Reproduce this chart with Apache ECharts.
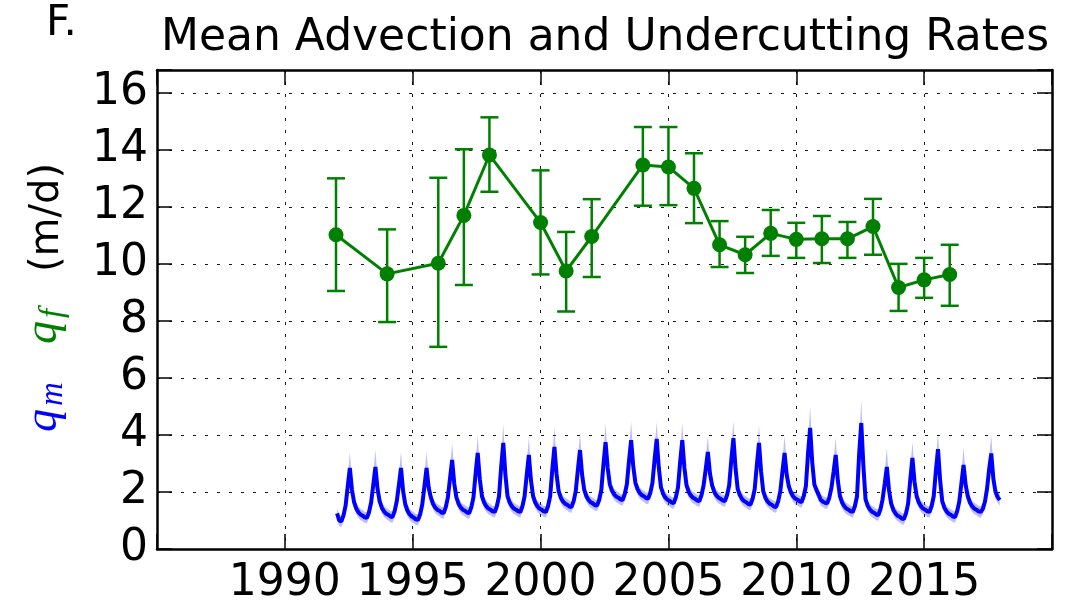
<!DOCTYPE html>
<html><head><meta charset="utf-8">
<script src="https://cdn.jsdelivr.net/npm/echarts@6/dist/echarts.min.js"></script>
<style>html,body{margin:0;padding:0;background:#fff}#c{width:1069px;height:611px}</style>
</head><body><div id="c"></div>
<script>
// ---- tick labels ----
const xTickLabels = [1990, 1995, 2000, 2005, 2010, 2015];
const yTickLabels = [0, 2, 4, 6, 8, 10, 12, 14, 16];

// ---- q_f (green, annual means with error bars) ----
const qfYears = [1992, 1994, 1996, 1997, 1998, 2000, 2001, 2002, 2004, 2005, 2006, 2007, 2008, 2009, 2010, 2011, 2012, 2013, 2014, 2015, 2016];
const qfMean  = [11.02, 9.65, 10.02, 11.70, 13.82, 11.45, 9.75, 10.96, 13.47, 13.40, 12.65, 10.67, 10.32, 11.07, 10.86, 10.88, 10.88, 11.31, 9.17, 9.44, 9.63];
const qfLow   = [9.05, 7.96, 7.09, 9.26, 12.53, 9.63, 8.33, 9.54, 12.04, 12.06, 11.43, 9.89, 9.68, 10.28, 10.21, 10.03, 10.21, 10.32, 8.35, 8.81, 8.53];
const qfHigh  = [13.00, 11.21, 13.02, 14.02, 15.14, 13.28, 11.12, 12.27, 14.80, 14.80, 13.88, 11.50, 10.95, 11.89, 11.44, 11.68, 11.47, 12.28, 10.00, 10.21, 10.67];

// ---- q_m (blue, monthly series 1992-2017, mid-month samples) ----
const qmStartYear = 1992;
const qmMonthly = [
  1.25,1.00,0.97,1.17,1.52,2.19,2.84,2.07,1.64,1.42,1.29,1.21,
  1.17,1.11,1.09,1.29,1.64,2.25,2.88,2.10,1.67,1.45,1.32,1.24,
  1.20,1.14,1.12,1.32,1.67,2.24,2.84,2.03,1.57,1.35,1.22,1.14,
  1.10,1.04,1.02,1.22,1.57,2.20,2.84,2.15,1.81,1.59,1.46,1.38,
  1.34,1.28,1.26,1.46,1.81,2.47,3.12,2.29,1.81,1.59,1.46,1.38,
  1.34,1.28,1.26,1.46,1.81,2.63,3.37,2.44,1.85,1.63,1.50,1.42,
  1.38,1.32,1.30,1.50,1.85,2.87,3.72,2.61,1.85,1.63,1.50,1.42,
  1.38,1.32,1.30,1.50,1.85,2.60,3.30,2.40,1.85,1.63,1.50,1.42,
  1.38,1.32,1.30,1.50,1.85,2.78,3.58,2.63,2.02,1.80,1.67,1.59,
  1.55,1.49,1.47,1.67,2.02,2.77,3.47,2.60,2.07,1.85,1.72,1.64,
  1.60,1.54,1.52,1.72,2.07,2.97,3.75,2.84,2.27,2.05,1.92,1.84,
  1.80,1.74,1.72,1.92,2.27,3.09,3.82,2.90,2.32,2.10,1.97,1.89,
  1.85,1.79,1.77,1.97,2.32,3.13,3.86,2.84,2.16,1.94,1.81,1.73,
  1.69,1.63,1.61,1.81,2.16,3.05,3.82,2.85,2.23,2.01,1.88,1.80,
  1.76,1.70,1.68,1.88,2.23,2.80,3.40,2.64,2.23,2.01,1.88,1.80,
  1.76,1.70,1.68,1.88,2.23,3.12,3.89,2.83,2.11,1.89,1.76,1.68,
  1.64,1.58,1.56,1.76,2.11,2.96,3.72,2.70,2.02,1.80,1.67,1.59,
  1.55,1.49,1.47,1.67,2.02,2.71,3.37,2.61,2.20,1.98,1.85,1.77,
  1.73,1.67,1.65,1.85,2.20,3.34,4.25,3.03,2.25,2.07,1.90,1.72,
  1.66,1.62,1.60,1.80,2.15,2.71,3.30,2.40,1.85,1.63,1.50,1.42,
  1.38,1.32,1.30,1.50,1.85,3.33,4.42,2.91,1.74,1.52,1.39,1.31,
  1.27,1.21,1.19,1.39,1.74,2.29,2.88,2.07,1.60,1.38,1.25,1.17,
  1.13,1.07,1.05,1.25,1.60,2.44,3.19,2.35,1.85,1.63,1.50,1.42,
  1.38,1.32,1.30,1.50,1.85,2.73,3.50,2.41,1.67,1.45,1.32,1.24,
  1.20,1.14,1.12,1.32,1.67,2.31,2.95,2.23,1.85,1.63,1.50,1.42,
  1.38,1.32,1.30,1.40,1.65,2.10,2.80,3.35,2.45,2.00,1.82,1.72
];
// band above / below the q_m line
const qmBandUp = [
  .2,.2,.2,.2,.25,.4,.55,.4,.25,.2,.2,.2,
  .2,.2,.2,.2,.25,.4,.60,.4,.25,.2,.2,.2,
  .2,.2,.2,.2,.25,.4,.55,.4,.25,.2,.2,.2,
  .2,.2,.2,.2,.25,.4,.55,.4,.25,.2,.2,.2,
  .2,.2,.2,.2,.25,.4,.60,.4,.25,.2,.2,.2,
  .2,.2,.2,.2,.25,.4,.60,.4,.25,.2,.2,.2,
  .2,.2,.2,.2,.25,.4,.65,.4,.25,.2,.2,.2,
  .2,.2,.2,.2,.25,.4,.60,.4,.25,.2,.2,.2,
  .2,.2,.2,.2,.25,.4,.70,.4,.25,.2,.2,.2,
  .2,.2,.2,.2,.25,.4,.60,.4,.25,.2,.2,.2,
  .2,.2,.2,.2,.25,.4,.65,.4,.25,.2,.2,.2,
  .2,.2,.2,.2,.25,.4,.65,.4,.25,.2,.2,.2,
  .2,.2,.2,.2,.25,.4,.60,.4,.25,.2,.2,.2,
  .2,.2,.2,.2,.25,.4,.60,.4,.25,.2,.2,.2,
  .2,.2,.2,.2,.25,.4,.55,.4,.25,.2,.2,.2,
  .2,.2,.2,.2,.25,.4,.60,.4,.25,.2,.2,.2,
  .2,.2,.2,.2,.25,.4,.60,.4,.25,.2,.2,.2,
  .2,.2,.2,.2,.25,.4,.60,.4,.25,.2,.2,.2,
  .2,.2,.2,.2,.25,.4,.75,.4,.25,.2,.2,.2,
  .2,.2,.2,.2,.25,.4,.60,.4,.25,.2,.2,.2,
  .2,.2,.2,.2,.25,.4,.80,.4,.25,.2,.2,.2,
  .2,.2,.2,.2,.25,.4,.65,.4,.25,.2,.2,.2,
  .2,.2,.2,.2,.25,.4,.55,.4,.25,.2,.2,.2,
  .2,.2,.2,.2,.25,.4,.60,.4,.25,.2,.2,.2,
  .2,.2,.2,.2,.25,.4,.60,.4,.25,.2,.2,.2,
  .2,.2,.2,.2,.2,.25,.4,.65,.4,.25,.2,.2
];
const qmBandDown = [
  .2,.2,.2,.2,.22,.28,.32,.28,.22,.2,.2,.2,
  .2,.2,.2,.2,.22,.28,.32,.28,.22,.2,.2,.2,
  .2,.2,.2,.2,.22,.28,.32,.28,.22,.2,.2,.2,
  .2,.2,.2,.2,.22,.28,.32,.28,.22,.2,.2,.2,
  .2,.2,.2,.2,.22,.28,.32,.28,.22,.2,.2,.2,
  .2,.2,.2,.2,.22,.28,.32,.28,.22,.2,.2,.2,
  .2,.2,.2,.2,.22,.28,.32,.28,.22,.2,.2,.2,
  .2,.2,.2,.2,.22,.28,.32,.28,.22,.2,.2,.2,
  .2,.2,.2,.2,.22,.28,.32,.28,.22,.2,.2,.2,
  .2,.2,.2,.2,.22,.28,.32,.28,.22,.2,.2,.2,
  .2,.2,.2,.2,.22,.28,.32,.28,.22,.2,.2,.2,
  .2,.2,.2,.2,.22,.28,.32,.28,.22,.2,.2,.2,
  .2,.2,.2,.2,.22,.28,.32,.28,.22,.2,.2,.2,
  .2,.2,.2,.2,.22,.28,.32,.28,.22,.2,.2,.2,
  .2,.2,.2,.2,.22,.28,.32,.28,.22,.2,.2,.2,
  .2,.2,.2,.2,.22,.28,.32,.28,.22,.2,.2,.2,
  .2,.2,.2,.2,.22,.28,.32,.28,.22,.2,.2,.2,
  .2,.2,.2,.2,.22,.28,.32,.28,.22,.2,.2,.2,
  .2,.2,.2,.2,.22,.28,.32,.28,.22,.2,.2,.2,
  .2,.2,.2,.2,.22,.28,.32,.28,.22,.2,.2,.2,
  .2,.2,.2,.2,.22,.28,.32,.28,.22,.2,.2,.2,
  .2,.2,.2,.2,.22,.28,.32,.28,.22,.2,.2,.2,
  .2,.2,.2,.2,.22,.28,.32,.28,.22,.2,.2,.2,
  .2,.2,.2,.2,.22,.28,.32,.28,.22,.2,.2,.2,
  .2,.2,.2,.2,.22,.28,.32,.28,.22,.2,.2,.2,
  .2,.2,.2,.2,.2,.22,.28,.32,.28,.22,.2,.2
];

// ---- derived tables ----
const qmTime = qmMonthly.map((v, i) => qmStartYear + (i + 0.5) / 12);
const qmLine = qmMonthly.map((v, i) => [qmTime[i], v]);
const qmHi = qmMonthly.map((v, i) => v + qmBandUp[i]);
const qmLo = qmMonthly.map((v, i) => v - qmBandDown[i]);
const qfLine = qfYears.map((y, i) => [y, qfMean[i]]);
const qfErr = qfYears.map((y, i) => [y, qfLow[i], qfHigh[i]]);

const GREEN = '#008000', BLUE = '#0000ff';
const FONT = '"DejaVu Sans", sans-serif';
const gridLine = { show: true, lineStyle: { color: '#000', width: 1, type: [3, 9], opacity: 0.9 } };
const frame = { show: true, onZero: false, lineStyle: { color: '#000', width: 2.5 } };
const tickIn = { show: true, inside: true, length: 15, lineStyle: { color: '#000', width: 1.5 } };

const chart = echarts.init(document.getElementById('c'), null, { renderer: 'canvas' });
chart.setOption({
  animation: false,
  backgroundColor: '#fff',
  grid: { left: 157, right: 17, top: 70, bottom: 62, containLabel: false },
  xAxis: [
    { type: 'value', min: 1985, max: 2020, interval: 5, position: 'bottom',
      axisLine: frame, axisTick: tickIn, splitLine: gridLine,
      axisLabel: { margin: 13, fontSize: 44, fontFamily: FONT, color: '#000',
        formatter: v => (xTickLabels.indexOf(v) >= 0 ? String(v) : '') } },
    { type: 'value', min: 1985, max: 2020, interval: 5, position: 'top',
      axisLine: frame, axisTick: tickIn, splitLine: { show: false }, axisLabel: { show: false } }
  ],
  yAxis: [
    { type: 'value', min: 0, max: 16.8, interval: 2, position: 'left',
      axisLine: frame, axisTick: tickIn, splitLine: gridLine,
      axisLabel: { margin: 9, fontSize: 44, fontFamily: FONT, color: '#000',
        formatter: v => (yTickLabels.indexOf(v) >= 0 ? String(v) : '') } },
    { type: 'value', min: 0, max: 16.8, interval: 2, position: 'right',
      axisLine: frame, axisTick: tickIn, splitLine: { show: false }, axisLabel: { show: false } }
  ],
  series: [
    { type: 'custom', name: 'qm band', xAxisIndex: 0, yAxisIndex: 0, silent: true, z: 2,
      data: [[qmTime[0], qmMonthly[0]]],
      renderItem: (params, api) => {
        const pts = [];
        for (let i = 0; i < qmTime.length; i++) pts.push(api.coord([qmTime[i], qmHi[i]]));
        for (let i = qmTime.length - 1; i >= 0; i--) pts.push(api.coord([qmTime[i], qmLo[i]]));
        return { type: 'polygon', shape: { points: pts }, style: { fill: 'rgba(40,40,255,0.3)', stroke: null } };
      } },
    { type: 'line', name: 'qm', xAxisIndex: 0, yAxisIndex: 0, data: qmLine, showSymbol: false, symbol: 'none',
      lineStyle: { color: BLUE, width: 4 }, z: 3 },
    { type: 'custom', name: 'qf err', xAxisIndex: 0, yAxisIndex: 0, silent: true, z: 4,
      encode: { x: 0, y: [1, 2] },
      data: qfErr,
      renderItem: (params, api) => {
        const x = api.value(0);
        const lo = api.coord([x, api.value(1)]);
        const hi = api.coord([x, api.value(2)]);
        const w = 9;
        const st = { stroke: GREEN, lineWidth: 2.5 };
        return { type: 'group', children: [
          { type: 'line', shape: { x1: lo[0], y1: lo[1], x2: hi[0], y2: hi[1] }, style: st },
          { type: 'line', shape: { x1: lo[0] - w, y1: lo[1], x2: lo[0] + w, y2: lo[1] }, style: st },
          { type: 'line', shape: { x1: hi[0] - w, y1: hi[1], x2: hi[0] + w, y2: hi[1] }, style: st }
        ] };
      } },
    { type: 'line', name: 'qf', xAxisIndex: 0, yAxisIndex: 0, data: qfLine, symbol: 'circle', symbolSize: 15,
      itemStyle: { color: GREEN }, lineStyle: { color: GREEN, width: 3 }, z: 5 }
  ],
  graphic: [
    { type: 'text', x: 46, y: 24, style: { text: 'F.', font: '42px "DejaVu Sans"', fill: '#000', verticalAlign: 'middle' } },
    { type: 'text', x: 605, y: 39, style: { text: 'Mean Advection and Undercutting Rates', font: '44px "DejaVu Sans"', fill: '#000', align: 'center', verticalAlign: 'middle' } },
    { type: 'group', x: 44, y: 432, rotation: Math.PI / 2, children: [
      { type: 'text', x: 0, y: 0, style: { text: 'q', font: 'italic 46px "Liberation Serif"', fill: BLUE, verticalAlign: 'middle' } },
      { type: 'text', x: 26, y: 9, style: { text: 'm', font: 'italic 33px "Liberation Serif"', fill: BLUE, verticalAlign: 'middle' } },
      { type: 'text', x: 88, y: 0, style: { text: 'q', font: 'italic 46px "Liberation Serif"', fill: GREEN, verticalAlign: 'middle' } },
      { type: 'text', x: 114, y: 9, style: { text: 'f', font: 'italic 33px "Liberation Serif"', fill: GREEN, verticalAlign: 'middle' } },
      { type: 'text', x: 160, y: 4, style: { text: '(m/d)', font: '40px "DejaVu Sans"', fill: '#000', verticalAlign: 'middle' } }
    ] }
  ]
});
</script>
</body></html>
